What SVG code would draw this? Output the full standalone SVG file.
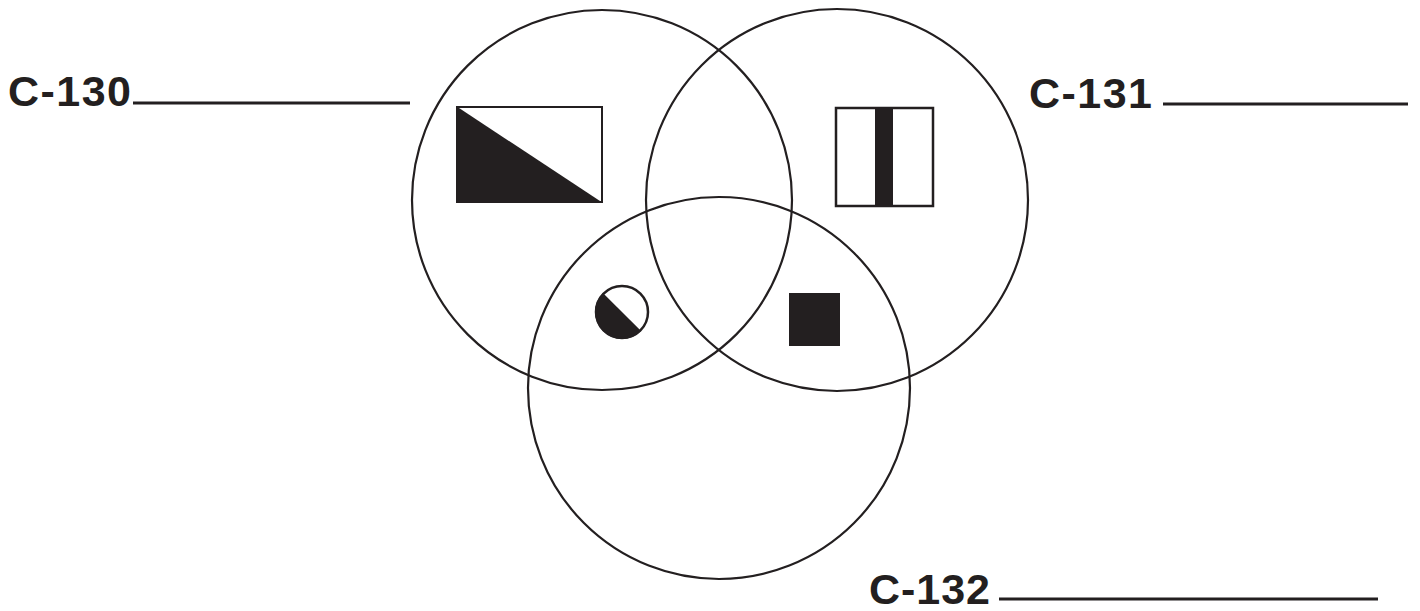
<svg xmlns="http://www.w3.org/2000/svg" width="1420" height="611" viewBox="0 0 1420 611">
<style>
.c{fill:none;stroke:#231f20;stroke-width:2.2}
.l{stroke:#231f20;stroke-width:3}
.t{font-family:"Liberation Sans",Arial,sans-serif;font-weight:bold;font-size:43px;fill:#231f20}
.f{fill:#231f20}
</style>
<g id="circles">
<circle id="circle-130" class="c" cx="602" cy="200" r="190"/>
<circle id="circle-131" class="c" cx="837" cy="200" r="191"/>
<circle id="circle-132" class="c" cx="719" cy="388" r="191"/>
</g>
<g id="label-130">
<text class="t" x="8" y="106" textLength="123" lengthAdjust="spacing">C-130</text>
<line class="l" x1="133" y1="103" x2="410" y2="103"/>
</g>
<g id="label-131">
<text class="t" x="1029" y="108" textLength="123" lengthAdjust="spacing">C-131</text>
<line class="l" x1="1163" y1="104" x2="1408" y2="104"/>
</g>
<g id="label-132">
<text class="t" x="869" y="604" textLength="121" lengthAdjust="spacing">C-132</text>
<line class="l" x1="999" y1="599" x2="1378" y2="599"/>
</g>
<g id="symbol-rect-diag">
<polygon class="f" points="456,106 603,203 456,203"/>
<rect x="457" y="107" width="145" height="95" fill="none" stroke="#231f20" stroke-width="2"/>
</g>
<g id="symbol-rect-bar">
<rect x="836" y="108" width="97" height="98" fill="none" stroke="#231f20" stroke-width="2.5"/>
<rect class="f" x="875" y="107" width="18" height="100"/>
</g>
<g id="symbol-circle-half">
<path class="f" d="M602.9,292.9 A27,27 0 0 0 641.1,331.1 Z"/>
<circle cx="622" cy="312" r="26" fill="none" stroke="#231f20" stroke-width="2.5"/>
</g>
<g id="symbol-square">
<rect class="f" x="789" y="293" width="51" height="53"/>
</g>
</svg>
